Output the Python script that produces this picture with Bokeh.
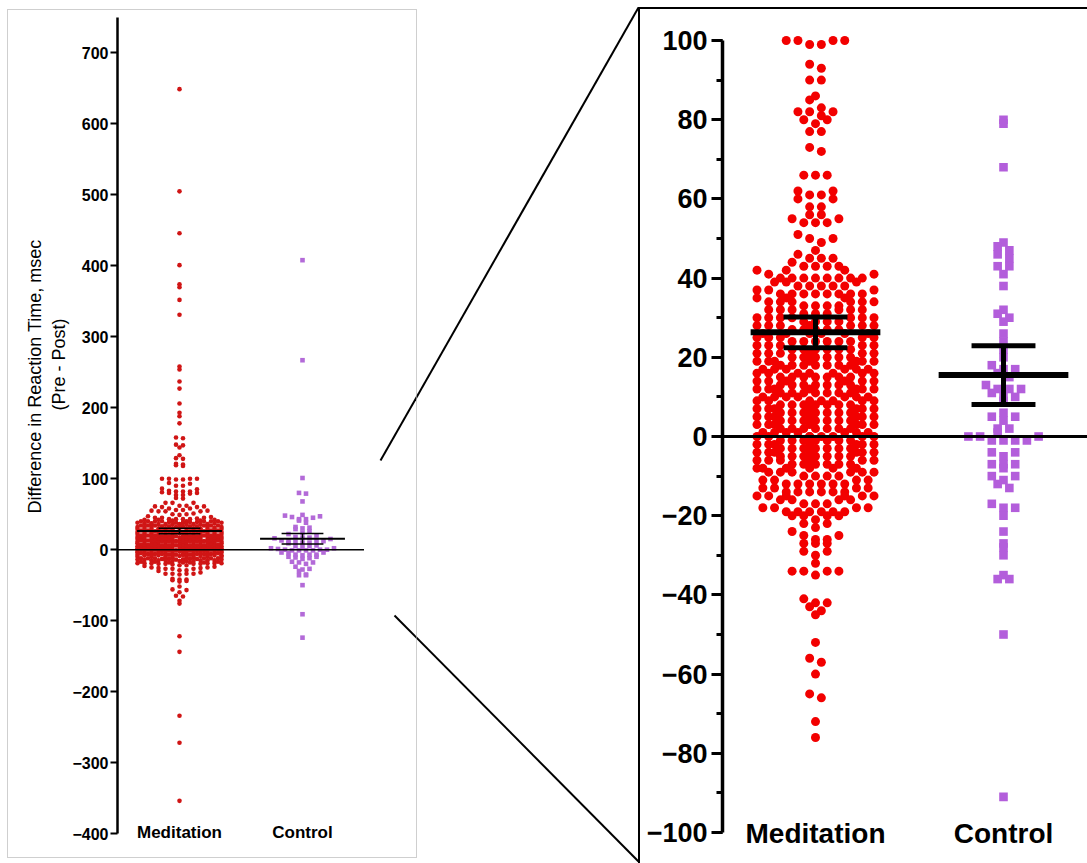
from bokeh.plotting import figure
from bokeh.layouts import row, column
from bokeh.models import ColumnDataSource, FixedTicker, Range1d, Title, Spacer
from bokeh.embed import file_html
from bokeh.resources import INLINE

# ---------------------------------------------------------------- data
groups = ["Meditation", "Control"]

meditation = [
    649, 505, 446, 401, 374, 370, 352, 331, 258, 254, 237, 227, 206, 193, 188, 178,
    158, 157, 148, 147, 144, 133, 129, 128, 121, 120, 119, 118,
    100, 100, 100, 100, 99, 99, 94, 93, 90, 90, 86, 85, 83, 82, 82, 82, 81, 80, 80, 79,
    77, 77, 73, 72,
    66, 66, 66, 62, 62, 61, 61, 60, 60, 58, 58, 56, 56, 55, 55, 54, 54, 54,
    51, 50, 50, 49, 47, 46, 45, 45, 45, 44, 43, 43, 43, 43, 42, 42, 42,
    41, 41, 40, 40, 40, 40, 40, 40, 40, 40,
    39, 39, 39, 38, 38, 38, 38, 38,
    37, 37, 37, 36, 36, 36, 36, 36, 36, 36, 36,
    35, 35, 35, 34, 34, 34, 34, 34, 34,
    33, 33, 33, 33, 32, 32, 32, 32, 32, 32,
    31, 31, 31, 30, 30, 30, 30, 30, 30, 30,
    29, 29, 29, 29, 28, 28, 28, 28, 28, 28, 28,
    27, 27, 27, 27, 27, 26, 26, 26, 26, 26, 26,
    25, 25, 25, 25, 25, 24, 24, 24, 24, 24, 24,
    23, 23, 23, 23, 23, 22, 22, 22, 22, 22, 22,
    21, 21, 21, 21, 21, 21, 20, 20, 20, 20, 20, 20,
    19, 19, 19, 19, 19, 19, 19, 18, 18, 18, 18, 18, 18, 18,
    17, 17, 17, 17, 17, 17, 16, 16, 16, 16, 16, 16, 16,
    15, 15, 15, 15, 15, 15, 15, 14, 14, 14, 14, 14, 14,
    13, 13, 13, 13, 13, 13, 13, 12, 12, 12, 12, 12, 12, 12,
    11, 11, 11, 11, 11, 11, 11, 10, 10, 10, 10, 10, 10, 10,
    9, 9, 9, 9, 9, 9, 9, 8, 8, 8, 8, 8, 8, 8,
    7, 7, 7, 7, 7, 7, 7, 6, 6, 6, 6, 6, 6, 6,
    5, 5, 5, 5, 5, 5, 5, 4, 4, 4, 4, 4, 4, 4,
    3, 3, 3, 3, 3, 3, 3, 2, 2, 2, 2, 2, 2, 2,
    1, 1, 1, 1, 1, 1, 1, 0, 0, 0, 0, 0, 0, 0, 0,
    -1, -1, -1, -1, -1, -1, -1, -2, -2, -2, -2, -2, -2, -2,
    -3, -3, -3, -3, -3, -3, -3, -4, -4, -4, -4, -4, -4, -4,
    -5, -5, -5, -5, -5, -5, -5, -6, -6, -6, -6, -6, -6,
    -7, -7, -7, -7, -7, -7, -8, -8, -8, -8, -8, -8,
    -9, -9, -9, -9, -9, -9, -10, -10, -10, -10,
    -11, -11, -11, -11, -12, -12, -12, -12, -12, -12,
    -13, -13, -13, -13, -14, -14, -14, -14, -14, -14,
    -15, -15, -15, -15, -15, -15, -16, -16, -16, -16,
    -17, -17, -17, -18, -18, -18, -18,
    -19, -19, -19, -19, -19, -19, -20, -20, -20, -20,
    -21, -22, -22, -23, -24, -25, -25, -26, -26, -27, -27, -27, -29, -29, -30,
    -32, -34, -34, -34, -34, -35, -41, -42, -42, -43, -44, -45,
    -52, -56, -57, -60, -65, -66, -72, -76,
    -122, -144, -234, -272, -354,
]

control = [
    408, 267, 101, 80, 79, 68, 49, 48, 47, 46, 45, 43, 43, 41, 38,
    32, 31, 30, 29, 26, 24, 22, 20, 18, 17, 17, 16, 15, 13,
    12, 12, 12, 11, 10, 10, 9, 6, 5, 5, 4, 2, 2, 1,
    0, 0, 0, -1, -1, -1, -1, -4, -4, -5, -7, -7, -7, -8,
    -10, -10, -11, -12, -13, -17, -18, -18, -20, -24, -27, -28, -30,
    -35, -36, -36, -50, -91, -124,
]

group_mean = [26.3, 15.5]
group_sem = [3.9, 7.4]

overview_ticks = [-400, -300, -200, -100, 0, 100, 200, 300, 400, 500, 600, 700]
zoom_ticks = [-100, -80, -60, -40, -20, 0, 20, 40, 60, 80, 100]
zoom_minor_ticks = [-100, -90, -80, -70, -60, -50, -40, -30, -20, -10, 0,
                    10, 20, 30, 40, 50, 60, 70, 80, 90, 100]
zoom_limits = [-100, 100]
y_title = ["Difference in Reaction Time, msec", "(Pre - Post)"]

# ---------------------------------------------------------------- style / layout
FONT = "Liberation Sans"
RED_L, RED_R = "#d01515", "#f20000"
PURPLE_L, PURPLE_R = "#b36ad8", "#b35edb"
PAGE_W, PAGE_H = 1087, 863

# page-pixel geometry of the three blocks
L_BOX = dict(x=8, y=10, w=408, h=847)       # overview panel (grey outline around it)
M_BOX = dict(x=416, w=224)                  # connector strip
R_BOX = dict(x=640, y=9, w=447, h=854)      # zoom panel (black outline on left/top)

# connectors (page pixels): from the overview panel to the corners of the zoom box
connectors = [((380, 460), (638, 7)), ((394, 615), (638, 861))]


def row_swarm(vals, ppy, spacing, diam, maxcols):
    """Prism-like column scatter: values binned by symbol height; each bin laid out
    as a centred row (centre-out); overflow spread over the half-step slots."""
    h = diam / ppy
    bins = {}
    for i, v in enumerate(vals):
        bins.setdefault(round(v / h), []).append(i)
    offs = [0.0] * len(vals)
    full = [(j - (maxcols - 1) / 2.0) * spacing for j in range(maxcols)]
    half = [(j - (maxcols - 2) / 2.0) * spacing for j in range(maxcols - 1)]
    for idx in bins.values():
        idx.sort(key=lambda i: vals[i])
        chunks = [idx[k:k + maxcols] for k in range(0, len(idx), maxcols)]
        for ci, ch in enumerate(chunks):
            m = len(ch)
            if ci == 0:
                slots = [(j - (m - 1) / 2.0) * spacing for j in range(m)]
                order = sorted(range(m), key=lambda j: (abs(slots[j]), -slots[j]))
                for k, pi in enumerate(ch):
                    offs[pi] = slots[order[k]]
            else:
                grid = half if ci % 2 else full
                n = len(grid)
                picks = [grid[min(n - 1, int(round((j + 0.5) * n / m - 0.5)))] for j in range(m)]
                picks = sorted(picks, key=lambda s: (abs(s), -s))
                for k, pi in enumerate(ch):
                    offs[pi] = picks[k]
    return offs


def make_panel(width, height, frame, cat_px, y_start, y_end, **extra):
    ppx = cat_px[1] - cat_px[0]
    x0 = 1 - (cat_px[0] - frame["left"]) / ppx
    x1 = x0 + (frame["right"] - frame["left"]) / ppx
    p = figure(width=width, height=height, x_range=Range1d(x0, x1),
               y_range=Range1d(y_start, y_end),
               output_backend="svg", toolbar_location=None,
               min_border_left=frame["left"], min_border_right=width - frame["right"],
               min_border_top=frame["top"], min_border_bottom=height - frame["bottom"],
               outline_line_color=None, background_fill_color="white",
               border_fill_color="white", **extra)
    p.xgrid.visible = False
    p.ygrid.visible = False
    ppy = (frame["bottom"] - frame["top"]) / (y_end - y_start)
    return p, ppx, ppy


def style_axes(p, tick_size, cat_size, cat_standoff, line_w, tick_out, tick_w,
               ticks, minor=None, minor_out=0, bounds="auto", standoff=2):
    ay = p.yaxis[0]
    ay.ticker = FixedTicker(ticks=ticks, minor_ticks=minor or [])
    ay.bounds = bounds
    ay.axis_line_color = "black"
    ay.axis_line_width = line_w
    ay.major_tick_out = tick_out
    ay.major_tick_in = 0
    ay.major_tick_line_width = tick_w
    ay.major_tick_line_color = "black"
    ay.minor_tick_out = minor_out
    ay.minor_tick_in = 0
    ay.minor_tick_line_width = tick_w
    ay.minor_tick_line_color = "black" if minor else None
    ay.major_label_text_font = FONT
    ay.major_label_text_font_size = tick_size
    ay.major_label_text_font_style = "bold"
    ay.major_label_text_color = "black"
    ay.major_label_standoff = standoff

    ax = p.xaxis[0]
    ax.ticker = FixedTicker(ticks=[i + 1 for i in range(len(groups))])
    ax.major_label_overrides = {i + 1: g for i, g in enumerate(groups)}
    ax.axis_line_color = None
    ax.major_tick_line_color = None
    ax.minor_tick_line_color = None
    ax.major_label_text_font = FONT
    ax.major_label_text_font_size = cat_size
    ax.major_label_text_font_style = "bold"
    ax.major_label_text_color = "black"
    ax.major_label_standoff = cat_standoff


def draw_groups(p, ppx, ppy, data, colors, markers, sizes, spacing, maxcols, limits=None):
    for gi, vals in enumerate(data):
        if limits is not None:
            vals = [v for v in vals if limits[0] <= v <= limits[1]]
        offs = row_swarm(vals, ppy, spacing, sizes[gi], maxcols[gi])
        src = ColumnDataSource(dict(x=[gi + 1 + o / ppx for o in offs], y=vals))
        p.scatter("x", "y", source=src, marker=markers[gi], size=sizes[gi],
                  fill_color=colors[gi], line_color=None)


def draw_stats(p, zero_w, mean_w, cap_w, mean_half=0.345, cap_half=0.17):
    n = len(groups)
    p.segment(x0=[0.0], x1=[n + 0.5], y0=[0], y1=[0], line_color="black", line_width=zero_w)
    cx = [i + 1 for i in range(n)]
    upper = [m + s for m, s in zip(group_mean, group_sem)]
    lower = [m - s for m, s in zip(group_mean, group_sem)]
    p.segment(x0=cx, x1=cx, y0=lower, y1=upper, line_color="black", line_width=cap_w)
    for yv in (upper, lower):
        p.segment(x0=[c - cap_half for c in cx], x1=[c + cap_half for c in cx],
                  y0=yv, y1=yv, line_color="black", line_width=cap_w)
    p.segment(x0=[c - mean_half for c in cx], x1=[c + mean_half for c in cx],
              y0=group_mean, y1=group_mean, line_color="black", line_width=mean_w)


# ---------------------------------------------------------------- overview panel
lf_page = dict(left=117, right=416, top=17, bottom=833)
lf = {k: v - (L_BOX["x"] if k in ("left", "right") else L_BOX["y"]) for k, v in lf_page.items()}
pl, l_ppx, l_ppy = make_panel(
    L_BOX["w"], L_BOX["h"], lf, (179 - L_BOX["x"], 302 - L_BOX["x"]), -400, 750,
    extra_x_ranges={"page_x": Range1d(lf_page["left"], lf_page["right"])},
    extra_y_ranges={"page_y": Range1d(lf_page["bottom"], lf_page["top"])},
    styles={"outline": "1px solid #cfcfcf"})
style_axes(pl, "16px", "17px", -17, 2.5, 7, 2, overview_ticks, standoff=2)
draw_groups(pl, l_ppx, l_ppy, [meditation, control], [RED_L, PURPLE_L],
            ["circle", "square"], [4.6, 4.6], 7.0, [13, 11])
draw_stats(pl, 1.5, 2, 1.5)
for (a, b) in connectors:
    pl.line(x=[a[0], b[0]], y=[a[1], b[1]], x_range_name="page_x", y_range_name="page_y",
            line_color="black", line_width=2)

pl.add_layout(Title(text=y_title[1], align="left", offset=423, text_font=FONT,
                    text_font_size="18px", text_font_style="normal",
                    text_color="black", standoff=2), "left")
pl.add_layout(Title(text=y_title[0], align="left", offset=320, text_font=FONT,
                    text_font_size="18px", text_font_style="normal",
                    text_color="black", standoff=2), "left")

# ---------------------------------------------------------------- connector strip
pm = figure(width=M_BOX["w"], height=PAGE_H,
            x_range=Range1d(M_BOX["x"], M_BOX["x"] + M_BOX["w"]),
            y_range=Range1d(PAGE_H, 0), x_axis_location=None, y_axis_location=None,
            output_backend="svg", toolbar_location=None,
            min_border_left=0, min_border_right=0, min_border_top=0, min_border_bottom=0,
            outline_line_color=None, background_fill_alpha=0, border_fill_alpha=0)
pm.xgrid.visible = False
pm.ygrid.visible = False
for (a, b) in connectors:
    pm.line(x=[a[0], b[0]], y=[a[1], b[1]], line_color="black", line_width=2)

# ---------------------------------------------------------------- zoom panel
rf_page = dict(left=722, right=PAGE_W, top=20, bottom=832)
rf = {k: v - (R_BOX["x"] if k in ("left", "right") else R_BOX["y"]) for k, v in rf_page.items()}
r_tick_top_page = 40
r_ppy_est = (rf_page["bottom"] - r_tick_top_page) / (zoom_limits[1] - zoom_limits[0])
r_end = zoom_limits[1] + (r_tick_top_page - rf_page["top"]) / r_ppy_est
pr, r_ppx, r_ppy = make_panel(
    R_BOX["w"], R_BOX["h"], rf, (815 - R_BOX["x"], 1003 - R_BOX["x"]), zoom_limits[0], r_end,
    styles={"outline": "2px solid black"})
style_axes(pr, "27px", "28px", -21, 3.5, 11, 3, zoom_ticks, minor=zoom_minor_ticks,
           minor_out=6, bounds=tuple(zoom_limits), standoff=4)
draw_groups(pr, r_ppx, r_ppy, [meditation, control], [RED_R, PURPLE_R],
            ["circle", "square"], [9.0, 8.6], 11.7, [11, 7], limits=zoom_limits)
draw_stats(pr, 3, 6, 5)

left_block = column(Spacer(width=L_BOX["w"], height=L_BOX["y"]), pl,
                    Spacer(width=L_BOX["w"], height=PAGE_H - L_BOX["y"] - L_BOX["h"]))
right_block = column(Spacer(width=R_BOX["w"], height=R_BOX["y"]), pr)
layout = row(Spacer(width=L_BOX["x"], height=PAGE_H), left_block, pm, right_block)
open("out.html", "w").write(file_html(layout, INLINE, title="Reaction time difference"))
